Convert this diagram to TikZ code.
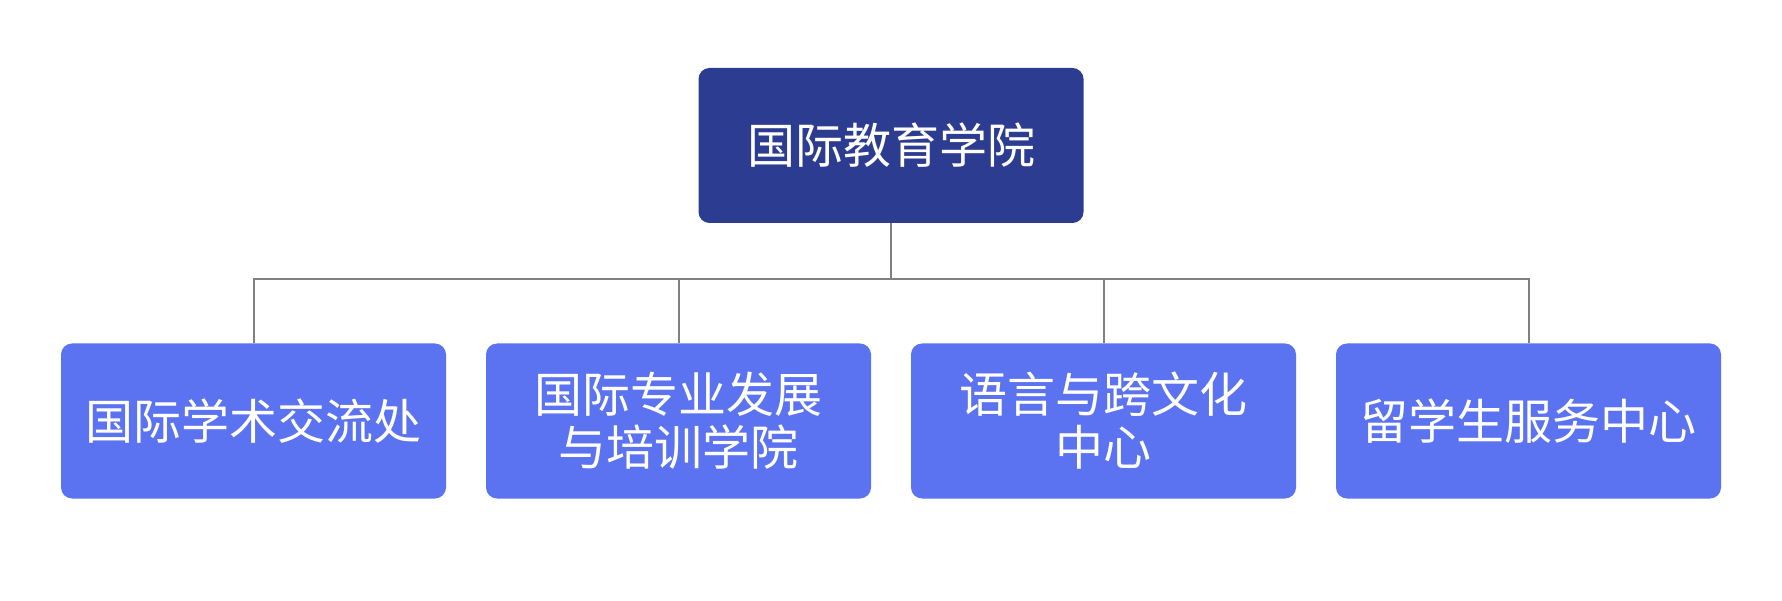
\documentclass[tikz,border=0pt]{standalone}
\usepackage{fontspec}
\newfontfamily\cjk{Noto Sans CJK SC}
\definecolor{topblue}{HTML}{2C3C91}
\definecolor{subblue}{HTML}{5B73F0}
\definecolor{linegray}{HTML}{808080}
\begin{document}
\begin{tikzpicture}[
        x=1pt, y=1pt,
        every node/.style={rounded corners=11pt, minimum width=385pt, minimum height=155pt, inner sep=0pt,
            text=white, align=center, font=\cjk\fontsize{48}{53}\selectfont},
        top/.style={fill=topblue},
        sub/.style={fill=subblue},
        ln/.style={draw=linegray, line width=2pt},
    ]
    \useasboundingbox (0,0) rectangle (1782,600);

    \node[top](root) at (891,454.5) {国际教育学院};
    \node[sub](c1) at (253.5,179) {国际学术交流处};
    \node[sub](c2) at (678.5,179) {国际专业发展\\与培训学院};
    \node[sub](c3) at (1103.5,179) {语言与跨文化\\中心};
    \node[sub](c4) at (1528.5,179) {留学生服务中心};

    \coordinate (bus) at (891,321);

    \draw[ln] (root.south) -- (bus);
    \draw[ln] (c1.north) -- (c1.north |- bus) -- (c4.north |- bus) -- (c4.north);
    \draw[ln] (c2.north) -- (c2.north |- bus);
    \draw[ln] (c3.north) -- (c3.north |- bus);
\end{tikzpicture}
\end{document}
